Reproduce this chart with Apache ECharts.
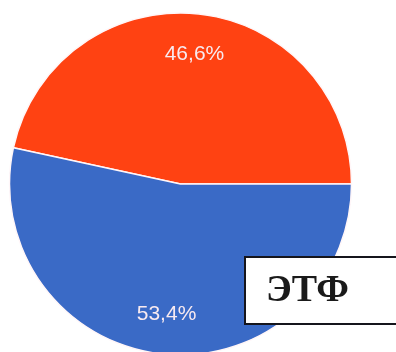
<!DOCTYPE html>
<html>
<head>
<meta charset="utf-8">
<script src="https://cdn.jsdelivr.net/npm/echarts@6/dist/echarts.min.js"></script>
<style>
html,body{margin:0;padding:0;background:#fff;}
#c{width:396px;height:352px;}
</style>
</head>
<body>
<div id="c"></div>
<script>
var categories = ['A', 'B'];
var values = [46.6, 53.4];
var labels = ['46,6%', '53,4%'];
var colors = ['#FF4212', '#3A6AC6'];
var boxText = 'ЭТФ';

var chart = echarts.init(document.getElementById('c'), null, {renderer: 'canvas'});
var center = [180.5, 184];
var R = 171;

var mainData = categories.map(function (c, i) {
  return {name: c, value: values[i], itemStyle: {color: colors[i]}};
});
var labelData = categories.map(function (c, i) {
  return {name: c, value: values[i], label: {formatter: labels[i]}};
});

chart.setOption({
  animation: false,
  series: [
    {
      type: 'pie',
      center: center,
      radius: [0, R],
      startAngle: 167.76,
      clockwise: true,
      silent: true,
      label: {show: false},
      labelLine: {show: false},
      itemStyle: {borderColor: '#fff6f8', borderWidth: 1.5},
      data: mainData
    },
    {
      type: 'pie',
      center: center,
      radius: [85, R],
      startAngle: 167.76,
      clockwise: true,
      silent: true,
      itemStyle: {color: 'rgba(0,0,0,0)', borderWidth: 0},
      label: {
        show: true,
        position: 'inside',
        color: '#f8eaf0',
        fontFamily: 'Liberation Sans, Arial, sans-serif',
        fontSize: 21
      },
      labelLine: {show: false},
      data: labelData
    }
  ],
  graphic: [
    {
      type: 'rect',
      shape: {x: 245, y: 257, width: 160, height: 67},
      style: {fill: '#ffffff', stroke: '#15151c', lineWidth: 2},
      z: 100
    },
    {
      type: 'text',
      x: 266,
      y: 291,
      style: {
        text: boxText,
        fill: '#1a1a1a',
        font: 'bold 38px "Liberation Serif", "Times New Roman", serif',
        textVerticalAlign: 'middle',
        verticalAlign: 'middle'
      },
      z: 101
    }
  ]
});
</script>
</body>
</html>
